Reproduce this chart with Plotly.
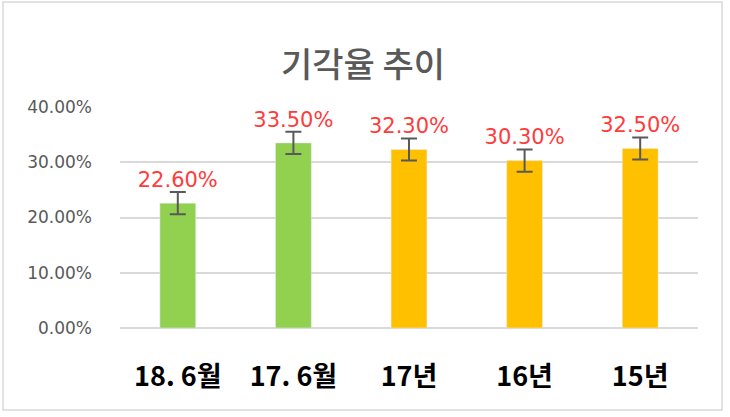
import plotly.graph_objects as go

categories = ["18. 6월", "17. 6월", "17년", "16년", "15년"]
values = [22.6, 33.5, 32.3, 30.3, 32.5]
errors = [2.0, 2.0, 2.0, 2.0, 2.0]
labels = ["22.60%", "33.50%", "32.30%", "30.30%", "32.50%"]
colors = ["#92D050", "#92D050", "#FFC000", "#FFC000", "#FFC000"]
y_ticks = [0, 10, 20, 30, 40]
y_tick_text = ["0.00%", "10.00%", "20.00%", "30.00%", "40.00%"]

fig = go.Figure()
fig.add_trace(go.Bar(
    x=categories, y=values, marker_color=colors,
    error_y=dict(type="data", array=errors, visible=True, color="#595959", thickness=2, width=8),
    hoverinfo="skip", showlegend=False,
))
fig.add_trace(go.Scatter(
    x=categories, y=[v + e for v, e in zip(values, errors)],
    mode="text", text=labels, textposition="top center",
    textfont=dict(family="DejaVu Sans", size=21, color="#FF3B3B"),
    showlegend=False, hoverinfo="skip", cliponaxis=False,
))

fig.update_layout(
    width=730, height=417,
    margin=dict(l=120, r=32, t=107, b=89),
    paper_bgcolor="white", plot_bgcolor="white",
    bargap=0.69,
    title=dict(text="기각율 추이", x=363 / 730, xref="container", xanchor="center",
               y=1 - 65 / 417, yref="container", yanchor="middle",
               font=dict(family="Noto Sans CJK KR", size=34, color="#595959", weight=500)),
    xaxis=dict(tickfont=dict(family="Noto Sans CJK KR", size=27, color="#000000", weight="bold"),
               showgrid=False, showline=False, ticks="", ticklabelstandoff=30),
    yaxis=dict(range=[0, 40], tickvals=y_ticks, ticktext=y_tick_text,
               tickfont=dict(family="DejaVu Sans", size=17, color="#595959"),
               showgrid=True, gridcolor="#D9D9D9", gridwidth=1.5, zeroline=True,
               zerolinecolor="#D9D9D9", zerolinewidth=1.5, ticks="", ticklabelstandoff=27),
    shapes=[dict(type="rect", xref="paper", yref="paper",
                 x0=-117/578, x1=(722-120)/578, y0=-(410-328)/221, y1=(328-2)/221,
                 line=dict(color="#D9D9D9", width=1.5), layer="below")],
)

fig.write_html("out.html")
